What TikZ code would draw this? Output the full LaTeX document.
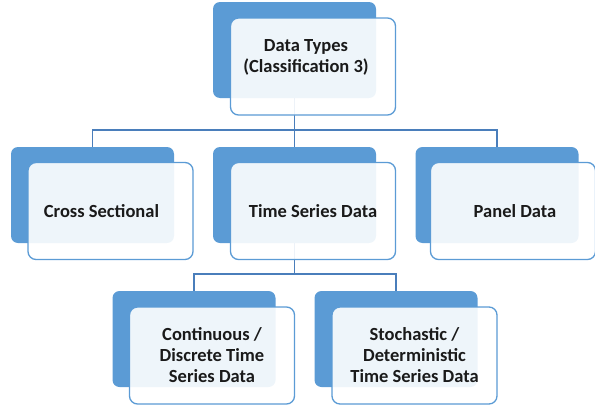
\documentclass[tikz,border=0pt]{standalone}
\usepackage{fontspec}
\setmainfont{Carlito}
\usetikzlibrary{calc,positioning}
\definecolor{boxblue}{HTML}{5B9BD5}
\definecolor{linkblue}{HTML}{4A7EBB}
\definecolor{inkgray}{HTML}{1A1A1A}
\tikzstyle{ndback} = [fill=boxblue, draw=none, rounded corners=7pt, minimum width=163pt, minimum height=96pt, inner sep=0pt]
\tikzstyle{ndfront} = [fill=white, fill opacity=0.9, draw=boxblue, line width=1.3pt, rounded corners=8pt, minimum width=165pt, minimum height=97pt, inner sep=0pt]
\tikzstyle{ndtext} = [text=inkgray, align=center, font=\fontsize{18.5}{21}\selectfont\bfseries, inner sep=0pt]
\tikzstyle{arlink} = [style={-,thick,linkblue,line width=1.2pt}]

\begin{document}
\begin{tikzpicture}[x=1pt, y=-1pt]
	\useasboundingbox (0,0) rectangle (595,407);
	% back plates
	\node[ndback] (bTop) at (294.5,50) {};
	\node[ndback] (bCross) at (92.5,195) {};
	\node[ndback] (bTime) at (294.5,195) {};
	\node[ndback] (bPanel) at (497,195) {};
	\node[ndback] (bCont) at (194,339) {};
	\node[ndback] (bStoch) at (396,339) {};
	% connectors
	\coordinate (j1) at (294.5,130);
	\coordinate (j2) at (294.5,274);
	\draw[arlink] (bTop.south) to (j1);
	\draw[arlink] (j1) -| (bCross.north);
	\draw[arlink] (j1) -- (bTime.north);
	\draw[arlink] (j1) -| (bPanel.north);
	\draw[arlink] (bTime.south) to (j2);
	\draw[arlink] (j2) -| (bCont.north);
	\draw[arlink] (j2) -| (bStoch.north);
	% front plates
	\node[ndfront] (fTop) at (313,66.5) {};
	\node[ndfront] (fCross) at (110.5,211) {};
	\node[ndfront] (fTime) at (313,211) {};
	\node[ndfront] (fPanel) at (513,211) {};
	\node[ndfront] (fCont) at (212,355.5) {};
	\node[ndfront] (fStoch) at (414.5,355.5) {};
	% labels
	\node[ndtext] (tTop) at ($(fTop)+(-7,-9)$) {Data Types\\(Classification 3)};
	\node[ndtext] (tCross) at ($(fCross)+(-9,0)$) {Cross Sectional};
	\node[ndtext] (tTime) at (fTime) {Time Series Data};
	\node[ndtext] (tPanel) at ($(fPanel)+(2,0)$) {Panel Data};
	\node[ndtext] (tCont) at (fCont) {Continuous /\\Discrete Time\\Series Data};
	\node[ndtext] (tStoch) at (fStoch) {Stochastic /\\Deterministic\\Time Series Data};
\end{tikzpicture}
\end{document}
